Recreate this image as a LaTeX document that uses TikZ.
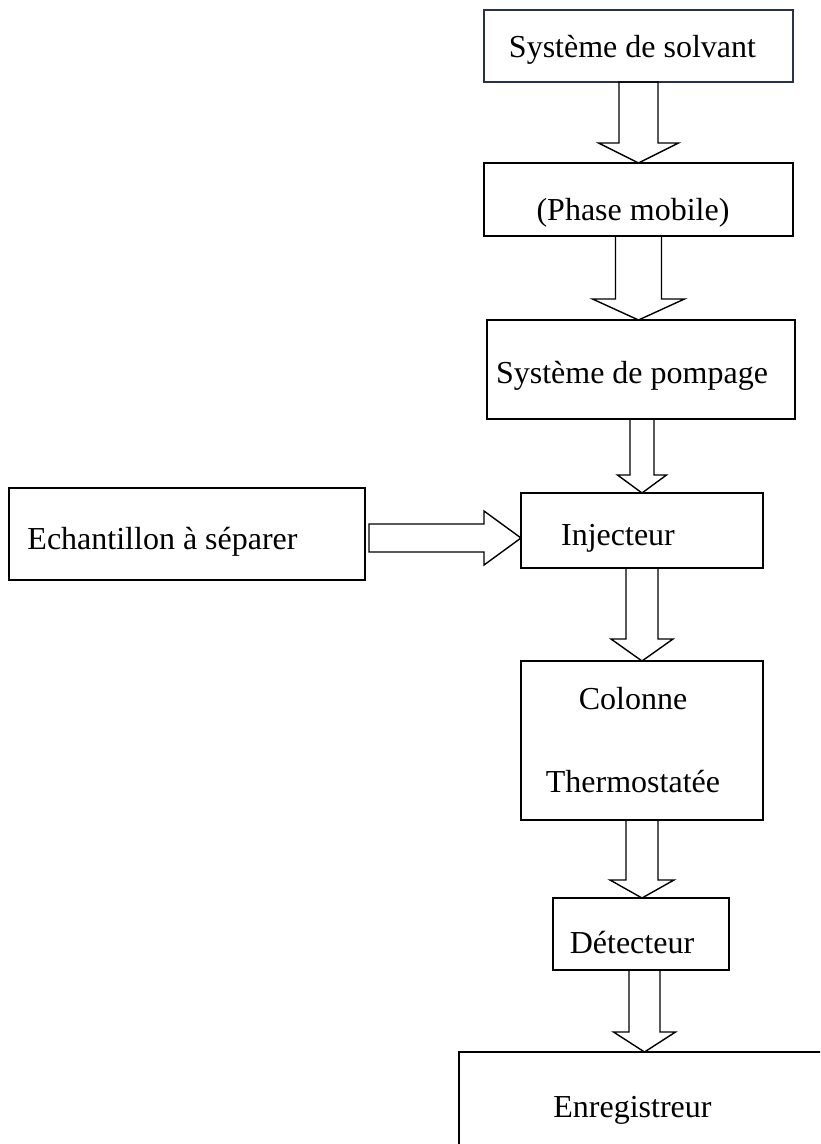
\documentclass[tikz,border=0pt]{standalone}
\usepackage{fontspec}
\setmainfont{Liberation Serif}
\usetikzlibrary{positioning, calc}
\definecolor{navygray}{RGB}{38,50,72}

\begin{document}
\begin{tikzpicture}[
    x=1pt, y=1pt,
    every node/.style={font=\fontsize{32}{38}\selectfont},
    box/.style 2 args={draw, line width=1.5pt, minimum width=#1pt, minimum height=#2pt, inner sep=0pt, outer sep=0pt},
    txt/.style 2 args={text height=22pt, text depth=7pt, xshift=#1pt, yshift=#2pt},
    % hollow block arrow: half shaft, half head, head length
    fat/.style n args={3}{line width=1.4pt, to path={
        let \p1=(\tikztostart), \p2=(\tikztotarget), \p3=($(\p2)!#3!(\p1)$) in
        ($(\p1)!#1!90:(\p2)$) -- ($(\p3)!#1!90:(\p2)$) -- ($(\p3)!#2!90:(\p2)$) -- (\p2)
        -- ($(\p3)!#2!-90:(\p2)$) -- ($(\p3)!#1!-90:(\p2)$) -- ($(\p1)!#1!-90:(\p2)$) -- cycle}}
]
\path[use as bounding box] (0,0) rectangle (820,-1144);
\clip (0,0) rectangle (820,-1144);

% Solvent and pump
\node[box={309}{72}, draw=navygray, line width=1.2pt, label={[txt={-6}{-3.5}]center:Système de solvant}] (solvant) at (638.5,-46) {};
\node[box={309}{73}, below=81pt of solvant, label={[txt={-5.5}{-13}]center:(Phase mobile)}] (phase) {};
\node[box={308}{99}, below=84pt of phase, xshift=2.5pt, label={[txt={-9}{-6}]center:Système de pompage}] (pompe) {};

% Injection
\node[box={242}{75}, below=74pt of pompe, xshift=1pt, label={[txt={-24}{-7}]center:Injecteur}] (inj) {};
\node[box={356}{92}, left=156pt of inj, yshift=-3.5pt, label={[txt={-24.5}{-8}]center:Echantillon à séparer}] (ech) {};

% Separation and detection
\node[box={242}{159}, below=93pt of inj,
      label={[txt={-9}{39}]center:Colonne},
      label={[txt={-9}{-44}]center:Thermostatée}] (col) {};
\node[box={176}{72}, below=78pt of col, xshift=-1pt, label={[txt={-9}{-12}]center:Détecteur}] (det) {};
\node[box={371}{128}, below=82pt of det, xshift=3.5pt, label={[txt={-12}{6}]center:Enregistreur}] (enreg) {};

% Arrows
\coordinate (ech-out) at ([shift={(4pt,-4pt)}]ech.east);
\draw[fat={19.5pt}{40pt}{20pt}] (solvant.south) to (solvant.south |- phase.north);
\draw[fat={23pt}{46pt}{21pt}] (phase.south) to (phase.south |- pompe.north);
\draw[fat={12pt}{24.5pt}{18pt}] (inj.north |- pompe.south) to (inj.north);
\draw[fat={16pt}{31pt}{22pt}] (inj.south) to (inj.south |- col.north);
\draw[fat={16pt}{32pt}{18pt}] (col.south) to (col.south |- det.north);
\draw[fat={15.5pt}{31pt}{20pt}] (enreg.north |- det.south) to (enreg.north);
\draw[fat={14pt}{27pt}{37pt}] (ech-out) to (ech-out -| inj.west);
\end{tikzpicture}
\end{document}
